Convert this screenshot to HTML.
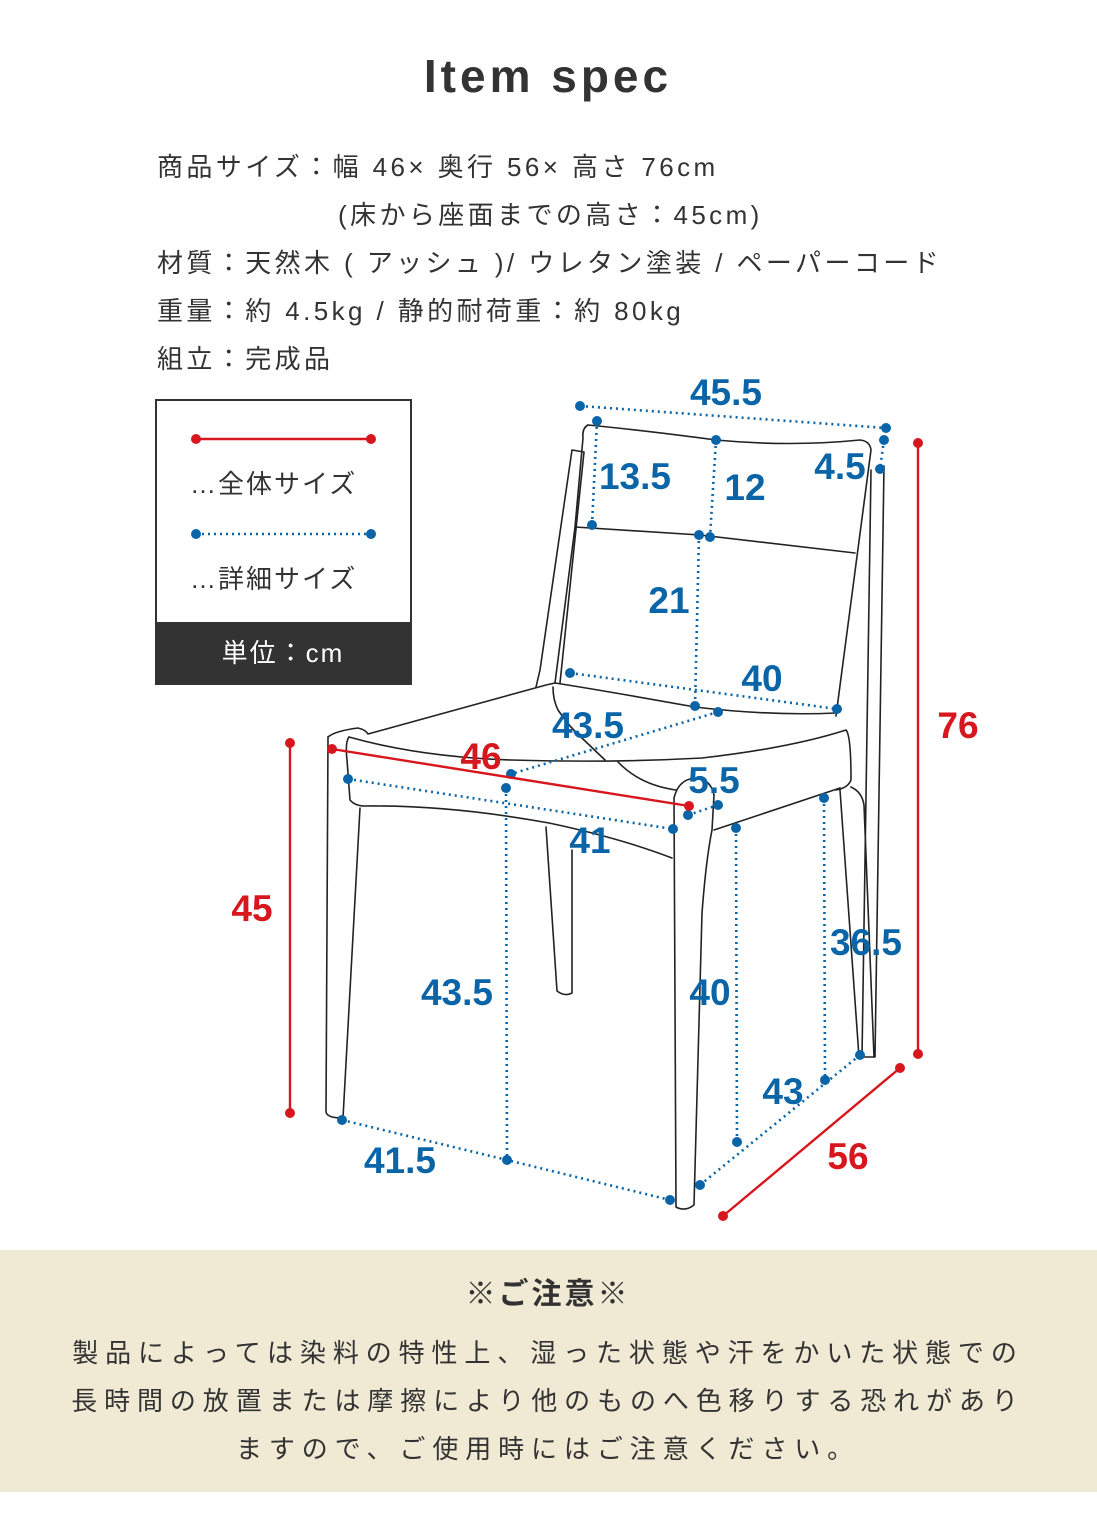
<!DOCTYPE html>
<html><head><meta charset="utf-8"><style>
html,body{margin:0;padding:0;background:#fff}
svg{display:block}
.t{font-family:"Liberation Sans","Noto Sans CJK JP",sans-serif;fill:#333}
.b{font-family:"Liberation Sans",sans-serif;font-weight:bold;font-size:37px;fill:#0a64a8}
.r{font-family:"Liberation Sans",sans-serif;font-weight:bold;font-size:37px;fill:#d7161e}
.ch{fill:none;stroke:#222;stroke-width:1.6;stroke-linejoin:round;stroke-linecap:round}
.bd{stroke:#0a64a8;stroke-width:2.6;stroke-dasharray:2 4;fill:none}
.rd{stroke:#d7161e;stroke-width:2.4;fill:none}
</style></head><body>
<svg width="1097" height="1536" viewBox="0 0 1097 1536" xmlns="http://www.w3.org/2000/svg">
<rect width="1097" height="1536" fill="#fff"/>
<text class="t" x="548" y="92" font-size="46" font-weight="bold" text-anchor="middle" letter-spacing="4" style="font-family:'Liberation Sans',sans-serif">Item spec</text>
<g class="t" font-size="26" letter-spacing="3.4">
<text x="157" y="176">商品サイズ：幅 46× 奥行 56× 高さ 76cm</text>
<text x="338" y="224">(床から座面までの高さ：45cm)</text>
<text x="157" y="272">材質：天然木 ( アッシュ )/ ウレタン塗装 / ペーパーコード</text>
<text x="157" y="320">重量：約 4.5kg / 静的耐荷重：約 80kg</text>
<text x="157" y="368">組立：完成品</text>
</g>
<!-- legend -->
<rect x="156" y="400" width="255" height="284" fill="#fff" stroke="#333" stroke-width="2"/>
<rect x="156" y="622" width="255" height="62" fill="#333"/>
<line x1="196" y1="439" x2="371" y2="439" class="rd"/>
<circle cx="196" cy="439" r="5" fill="#d7161e"/><circle cx="371" cy="439" r="5" fill="#d7161e"/>
<text class="t" x="190" y="493" font-size="26" letter-spacing="2">…全体サイズ</text>
<line x1="196" y1="534" x2="371" y2="534" class="bd"/>
<circle cx="196" cy="534" r="5" fill="#0a64a8"/><circle cx="371" cy="534" r="5" fill="#0a64a8"/>
<text class="t" x="190" y="588" font-size="26" letter-spacing="2">…詳細サイズ</text>
<text x="283" y="662" font-size="26" text-anchor="middle" letter-spacing="2" style="font-family:'Liberation Sans','Noto Sans CJK JP',sans-serif;fill:#fff">単位：cm</text>

<!-- chair -->
<g class="ch">
<path d="M588,425 Q640,430 716,440 Q790,447 860,440 Q870,441 871,450 L836,716"/>
<path d="M588,425 Q582,428 583,438 L575,527 L555,683"/>
<path d="M575,527 L700,535 L855,553"/>
<path d="M572,450 L584,452 L560,683 M572,450 L540,670 L536,687"/>
<path d="M555,683 Q600,690 695,707 Q770,716 836,713"/>
<path d="M884,466 L875,1057 M871,470 L862,1057 L875,1057"/>
<path d="M328,737 Q335,731 358,728 Q366,730 368,734 L546,685 L555,683"/>
<path d="M349,737 Q420,757 511,760 Q610,763 702,758 Q790,748 846,730 Q851,735 851,780 Q848,788 836,790"/>
<path d="M349,737 Q345,742 347,760 L350,800 Q355,806 365,806 Q450,805 549,823 Q620,838 672,858"/>
<path d="M328,737 L326,1112 Q327,1118 343,1118 L360,808"/>
<path d="M546,827 L557,991 Q565,997 572,993 L572,850"/>
<path d="M553,687 Q553,700 558,710 Q570,728 584,740 L605,760 M618,762 Q640,785 676,790"/>
<path d="M674,798 Q678,782 690,779 Q710,776 714,795 L712,830 Q706,860 702,913 L694,1205 Q685,1212 676,1207 L674,798"/>
<path d="M714,830 L840,788 M840,790 L859,1057 M851,787 Q862,792 864,805 L874,1057"/>
</g>

<!-- blue dims -->
<g class="bd">
<path d="M580,406 L886,428"/>
<path d="M884,440 L880,469"/>
<path d="M597,421 L592,525"/>
<path d="M716,440 L710,537"/>
<path d="M699,535 L695,706"/>
<path d="M570,673 L837,709"/>
<path d="M718,712 L511,774"/>
<path d="M688,815 L718,805"/>
<path d="M348,779 L673,829"/>
<path d="M506,788 L507,1160"/>
<path d="M736,828 L737,1142"/>
<path d="M824,798 L825,1080"/>
<path d="M700,1185 L860,1055"/>
<path d="M342,1120 L507,1160 L670,1200"/>
</g>
<g fill="#0a64a8">
<circle cx="580" cy="406" r="5"/><circle cx="886" cy="428" r="5"/>
<circle cx="884" cy="440" r="5"/><circle cx="880" cy="469" r="5"/>
<circle cx="597" cy="421" r="5"/><circle cx="592" cy="525" r="5"/>
<circle cx="716" cy="440" r="5"/><circle cx="710" cy="537" r="5"/>
<circle cx="699" cy="535" r="5"/><circle cx="695" cy="706" r="5"/>
<circle cx="570" cy="673" r="5"/><circle cx="837" cy="709" r="5"/>
<circle cx="718" cy="712" r="5"/><circle cx="511" cy="774" r="5"/>
<circle cx="688" cy="815" r="5"/><circle cx="718" cy="805" r="5"/>
<circle cx="348" cy="779" r="5"/><circle cx="673" cy="829" r="5"/>
<circle cx="506" cy="788" r="5"/><circle cx="507" cy="1160" r="5"/>
<circle cx="736" cy="828" r="5"/><circle cx="737" cy="1142" r="5"/>
<circle cx="824" cy="798" r="5"/><circle cx="825" cy="1080" r="5"/>
<circle cx="700" cy="1185" r="5"/><circle cx="860" cy="1055" r="5"/>
<circle cx="342" cy="1120" r="5"/><circle cx="670" cy="1200" r="5"/>
</g>
<!-- red dims -->
<g class="rd">
<path d="M918,443 L918,1054"/>
<path d="M290,743 L290,1113"/>
<path d="M332,749 L689,806"/>
<path d="M723,1216 L900,1068"/>
</g>
<g fill="#d7161e">
<circle cx="918" cy="443" r="5"/><circle cx="918" cy="1054" r="5"/>
<circle cx="290" cy="743" r="5"/><circle cx="290" cy="1113" r="5"/>
<circle cx="332" cy="749" r="5"/><circle cx="689" cy="806" r="5"/>
<circle cx="723" cy="1216" r="5"/><circle cx="900" cy="1068" r="5"/>
</g>
<g text-anchor="middle">
<text class="b" x="726" y="405">45.5</text>
<text class="b" x="840" y="479">4.5</text>
<text class="b" x="635" y="489">13.5</text>
<text class="b" x="745" y="500">12</text>
<text class="b" x="669" y="613">21</text>
<text class="b" x="762" y="691">40</text>
<text class="b" x="588" y="738">43.5</text>
<text class="b" x="714" y="793">5.5</text>
<text class="b" x="590" y="853">41</text>
<text class="b" x="457" y="1005">43.5</text>
<text class="b" x="710" y="1005">40</text>
<text class="b" x="866" y="955">36.5</text>
<text class="b" x="783" y="1104">43</text>
<text class="b" x="400" y="1173">41.5</text>
<text class="r" x="958" y="738">76</text>
<text class="r" x="252" y="921">45</text>
<text class="r" x="481" y="769">46</text>
<text class="r" x="848" y="1169">56</text>
</g>

<!-- notice -->
<rect x="0" y="1250" width="1097" height="242" fill="#f0ead4"/>
<text class="t" x="548" y="1304" font-size="30" font-weight="bold" text-anchor="middle" letter-spacing="3">※ご注意※</text>
<g class="t" font-size="26" text-anchor="middle" letter-spacing="6.9">
<text x="548" y="1362">製品によっては染料の特性上、湿った状態や汗をかいた状態での</text>
<text x="548" y="1410">長時間の放置または摩擦により他のものへ色移りする恐れがあり</text>
<text x="548" y="1458">ますので、ご使用時にはご注意ください。</text>
</g>
</svg>
</body></html>
